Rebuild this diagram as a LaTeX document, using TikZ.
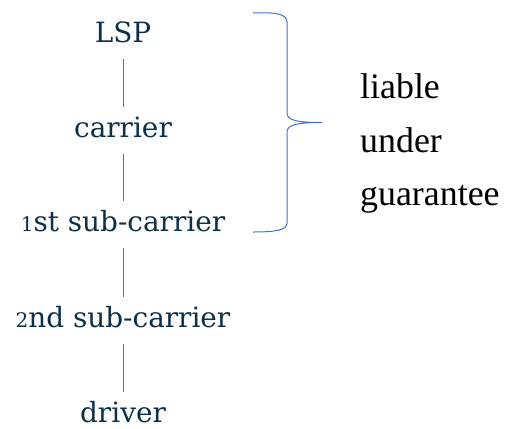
\documentclass[tikz,border=0pt]{standalone}
\usepackage{fontspec}
\usepackage{graphicx}
\newfontfamily\partyfnt{DejaVu Serif}
\newfontfamily\remarkfnt{LiberationSerif-Regular.ttf}
\definecolor{navy}{HTML}{0D3049}
\definecolor{linkblue}{HTML}{4472C4}
\newcommand{\osd}[1]{\scalebox{0.72}{#1}}
\tikzset{
  party/.style={anchor=base, inner sep=0pt, text height=22bp, text depth=7bp, text=navy, font=\partyfnt\fontsize{28}{34}\selectfont},
  link/.style={draw=linkblue, line width=1bp, shorten <=10bp, shorten >=8bp},
  remark/.style={anchor=base west, inner sep=0pt, text=black, font=\remarkfnt\fontsize{36}{40}\selectfont},
  bracket/.style={draw=linkblue, line width=1bp}
}
\begin{document}
\begin{tikzpicture}[x=1bp,y=-1bp]
\useasboundingbox (0,0) rectangle (505,428);
\node[party] (lsp) at (123,42) {LSP};
\node[party] (carrier) at (123,137) {carrier};
\node[party] (sub1) at (123,231) {\osd{1}st sub-carrier};
\node[party] (sub2) at (123,327) {\osd{2}nd sub-carrier};
\node[party] (driver) at (123,422) {driver};
\draw[link] (lsp.south) -- (carrier.north);
\draw[link] (carrier.south) -- (sub1.north);
\draw[link] (sub1.south) -- (sub2.north);
\draw[link] (sub2.south) -- (driver.north);
\draw[bracket] (253,13) .. controls (276,12) and (287,14) .. (287,22) -- (287,113)
  .. controls (287,121) and (300,122.5) .. (322,122.5)
  .. controls (300,122.5) and (287,124) .. (287,132) -- (287,223)
  .. controls (287,230) and (276,232) .. (253,232);
\node[remark] (r1) at (360,98) {liable};
\node[remark] (r2) at (360,152) {under};
\node[remark] (r3) at (360,205) {guarantee};
\end{tikzpicture}
\end{document}
